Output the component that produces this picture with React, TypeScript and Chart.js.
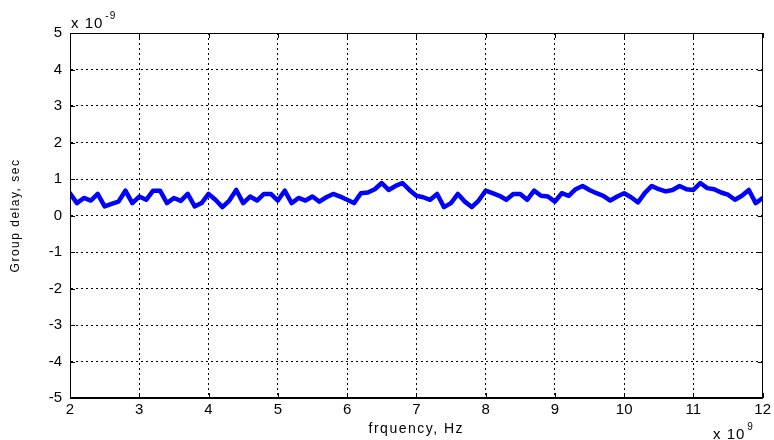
import React, { useEffect, useRef } from "react";
import { Chart, registerables } from "chart.js";
Chart.register(...registerables);

// frequency in units of 1e9 Hz
const freqGHz = [
  2.0, 2.1, 2.2, 2.3, 2.4, 2.5, 2.6, 2.7, 2.8, 2.9,
  3.0, 3.1, 3.2, 3.3, 3.4, 3.5, 3.6, 3.7, 3.8, 3.9,
  4.0, 4.1, 4.2, 4.3, 4.4, 4.5, 4.6, 4.7, 4.8, 4.9,
  5.0, 5.1, 5.2, 5.3, 5.4, 5.5, 5.6, 5.7, 5.8, 5.9,
  6.0, 6.1, 6.2, 6.3, 6.4, 6.5, 6.6, 6.7, 6.8, 6.9,
  7.0, 7.1, 7.2, 7.3, 7.4, 7.5, 7.6, 7.7, 7.8, 7.9,
  8.0, 8.1, 8.2, 8.3, 8.4, 8.5, 8.6, 8.7, 8.8, 8.9,
  9.0, 9.1, 9.2, 9.3, 9.4, 9.5, 9.6, 9.7, 9.8, 9.9,
  10.0, 10.1, 10.2, 10.3, 10.4, 10.5, 10.6, 10.7, 10.8, 10.9,
  11.0, 11.1, 11.2, 11.3, 11.4, 11.5, 11.6, 11.7, 11.8, 11.9,
  12.0,
];

// group delay in units of 1e-9 s
const delayNs = [
  0.61, 0.34, 0.48, 0.41, 0.59, 0.25, 0.32, 0.38, 0.68, 0.34,
  0.52, 0.43, 0.68, 0.68, 0.34, 0.48, 0.40, 0.59, 0.25, 0.34,
  0.59, 0.43, 0.23, 0.41, 0.70, 0.34, 0.52, 0.41, 0.59, 0.59,
  0.41, 0.68, 0.34, 0.48, 0.41, 0.52, 0.38, 0.50, 0.59, 0.52,
  0.43, 0.34, 0.61, 0.63, 0.72, 0.89, 0.70, 0.81, 0.89, 0.70,
  0.54, 0.50, 0.43, 0.59, 0.23, 0.34, 0.59, 0.38, 0.23, 0.41,
  0.68, 0.61, 0.54, 0.43, 0.59, 0.59, 0.43, 0.68, 0.54, 0.52,
  0.38, 0.61, 0.54, 0.72, 0.81, 0.70, 0.61, 0.54, 0.41, 0.52,
  0.61, 0.50, 0.36, 0.62, 0.81, 0.72, 0.66, 0.70, 0.81, 0.72,
  0.70, 0.89, 0.75, 0.72, 0.63, 0.57, 0.43, 0.54, 0.70, 0.34,
  0.48,
];

const xTicks = [2, 3, 4, 5, 6, 7, 8, 9, 10, 11, 12];
const yTicks = [-5, -4, -3, -2, -1, 0, 1, 2, 3, 4, 5];

const xTitle = "frquency, Hz";
const yTitle = "Group delay, sec";
const xExp = "9";
const yExp = "-9";

const FONT = "'Liberation Sans', Arial, Helvetica, sans-serif";

const decor = {
  id: "decor",
  afterDraw(chart: any) {
    const { ctx, chartArea: a, scales } = chart;
    const xs = scales.x;
    const ys = scales.y;
    ctx.save();
    ctx.strokeStyle = "#000";
    ctx.lineWidth = 1;
    ctx.setLineDash([]);
    // box
    ctx.strokeRect(Math.round(a.left) + 0.5, Math.round(a.top) + 0.5, Math.round(a.width) - 1, Math.round(a.height) - 1);
    // inward tick marks
    const tl = 5;
    ctx.beginPath();
    for (const v of xTicks) {
      const px = Math.round(xs.getPixelForValue(v)) + 0.5;
      ctx.moveTo(px, a.bottom);
      ctx.lineTo(px, a.bottom - tl);
      ctx.moveTo(px, a.top);
      ctx.lineTo(px, a.top + tl);
    }
    for (const v of yTicks) {
      const py = Math.round(ys.getPixelForValue(v)) + 0.5;
      ctx.moveTo(a.left, py);
      ctx.lineTo(a.left + tl, py);
      ctx.moveTo(a.right, py);
      ctx.lineTo(a.right - tl, py);
    }
    ctx.stroke();

    ctx.fillStyle = "#000";
    // x title
    ctx.font = `14px ${FONT}`;
    (ctx as any).letterSpacing = "1.5px";
    ctx.textAlign = "center";
    ctx.textBaseline = "alphabetic";
    ctx.fillText(xTitle, (a.left + a.right) / 2, 433);
    // y title
    ctx.save();
    ctx.translate(19, (a.top + a.bottom) / 2);
    ctx.rotate(-Math.PI / 2);
    ctx.font = `12px ${FONT}`;
    (ctx as any).letterSpacing = "1.5px";
    ctx.textAlign = "center";
    ctx.fillText(yTitle, 0, 0);
    ctx.restore();

    // multipliers
    ctx.textAlign = "left";
    (ctx as any).letterSpacing = "1px";
    ctx.font = `15px ${FONT}`;
    const base = "x 10";
    const bw = ctx.measureText(base).width;
    // x multiplier (bottom right)
    const xmx = 713;
    ctx.fillText(base, xmx, 439);
    ctx.font = `10px ${FONT}`;
    ctx.fillText(xExp, xmx + bw + 2, 430);
    // y multiplier (top left)
    ctx.font = `15px ${FONT}`;
    const ymx = a.left + 1;
    ctx.fillText(base, ymx, 28);
    ctx.font = `10px ${FONT}`;
    ctx.fillText(yExp, ymx + bw + 2, 19);
    (ctx as any).letterSpacing = "0px";
    ctx.restore();
  },
};

export default function App() {
  const ref = useRef<HTMLCanvasElement | null>(null);
  useEffect(() => {
    if (!ref.current) return;
    const points = freqGHz.map((f, i) => ({ x: f, y: delayNs[i] }));
    const grid = {
      display: true,
      color: "#000",
      lineWidth: 1,
      drawTicks: false,
    };
    const chart = new Chart(ref.current, {
      type: "line",
      data: {
        datasets: [
          {
            data: points,
            borderColor: "#0000ff",
            borderWidth: 4.5,
            pointRadius: 0,
            tension: 0,
            fill: false,
            borderJoinStyle: "round",
            borderCapStyle: "round",
          } as any,
        ],
      },
      options: {
        animation: false,
        responsive: true,
        maintainAspectRatio: false,
        layout: { padding: { left: 0, top: 33, right: 11, bottom: 0 } },
        plugins: { legend: { display: false }, tooltip: { enabled: false } },
        scales: {
          x: {
            type: "linear",
            min: 2,
            max: 12,
            afterBuildTicks: (s: any) => {
              s.ticks = xTicks.map((v) => ({ value: v }));
            },
            afterFit: (s: any) => {
              s.height = 42;
            },
            ticks: {
              color: "#000",
              font: { family: FONT, size: 15 },
              padding: 3,
              maxRotation: 0,
              autoSkip: false,
            },
            grid: grid as any,
            border: { display: true, color: "#000", dash: [2, 3] } as any,
          },
          y: {
            type: "linear",
            min: -5,
            max: 5,
            afterBuildTicks: (s: any) => {
              s.ticks = yTicks.map((v) => ({ value: v }));
            },
            afterFit: (s: any) => {
              s.width = 70;
            },
            ticks: {
              color: "#000",
              font: { family: FONT, size: 15 },
              padding: 8,
              autoSkip: false,
            },
            grid: grid as any,
            border: { display: true, color: "#000", dash: [2, 3] } as any,
          },
        },
      },
      plugins: [decor],
    });
    return () => chart.destroy();
  }, []);
  return (
    <div style={{ position: "fixed", left: 0, top: 0, width: 774, height: 440, background: "#fff" }}>
      <canvas ref={ref} />
    </div>
  );
}
